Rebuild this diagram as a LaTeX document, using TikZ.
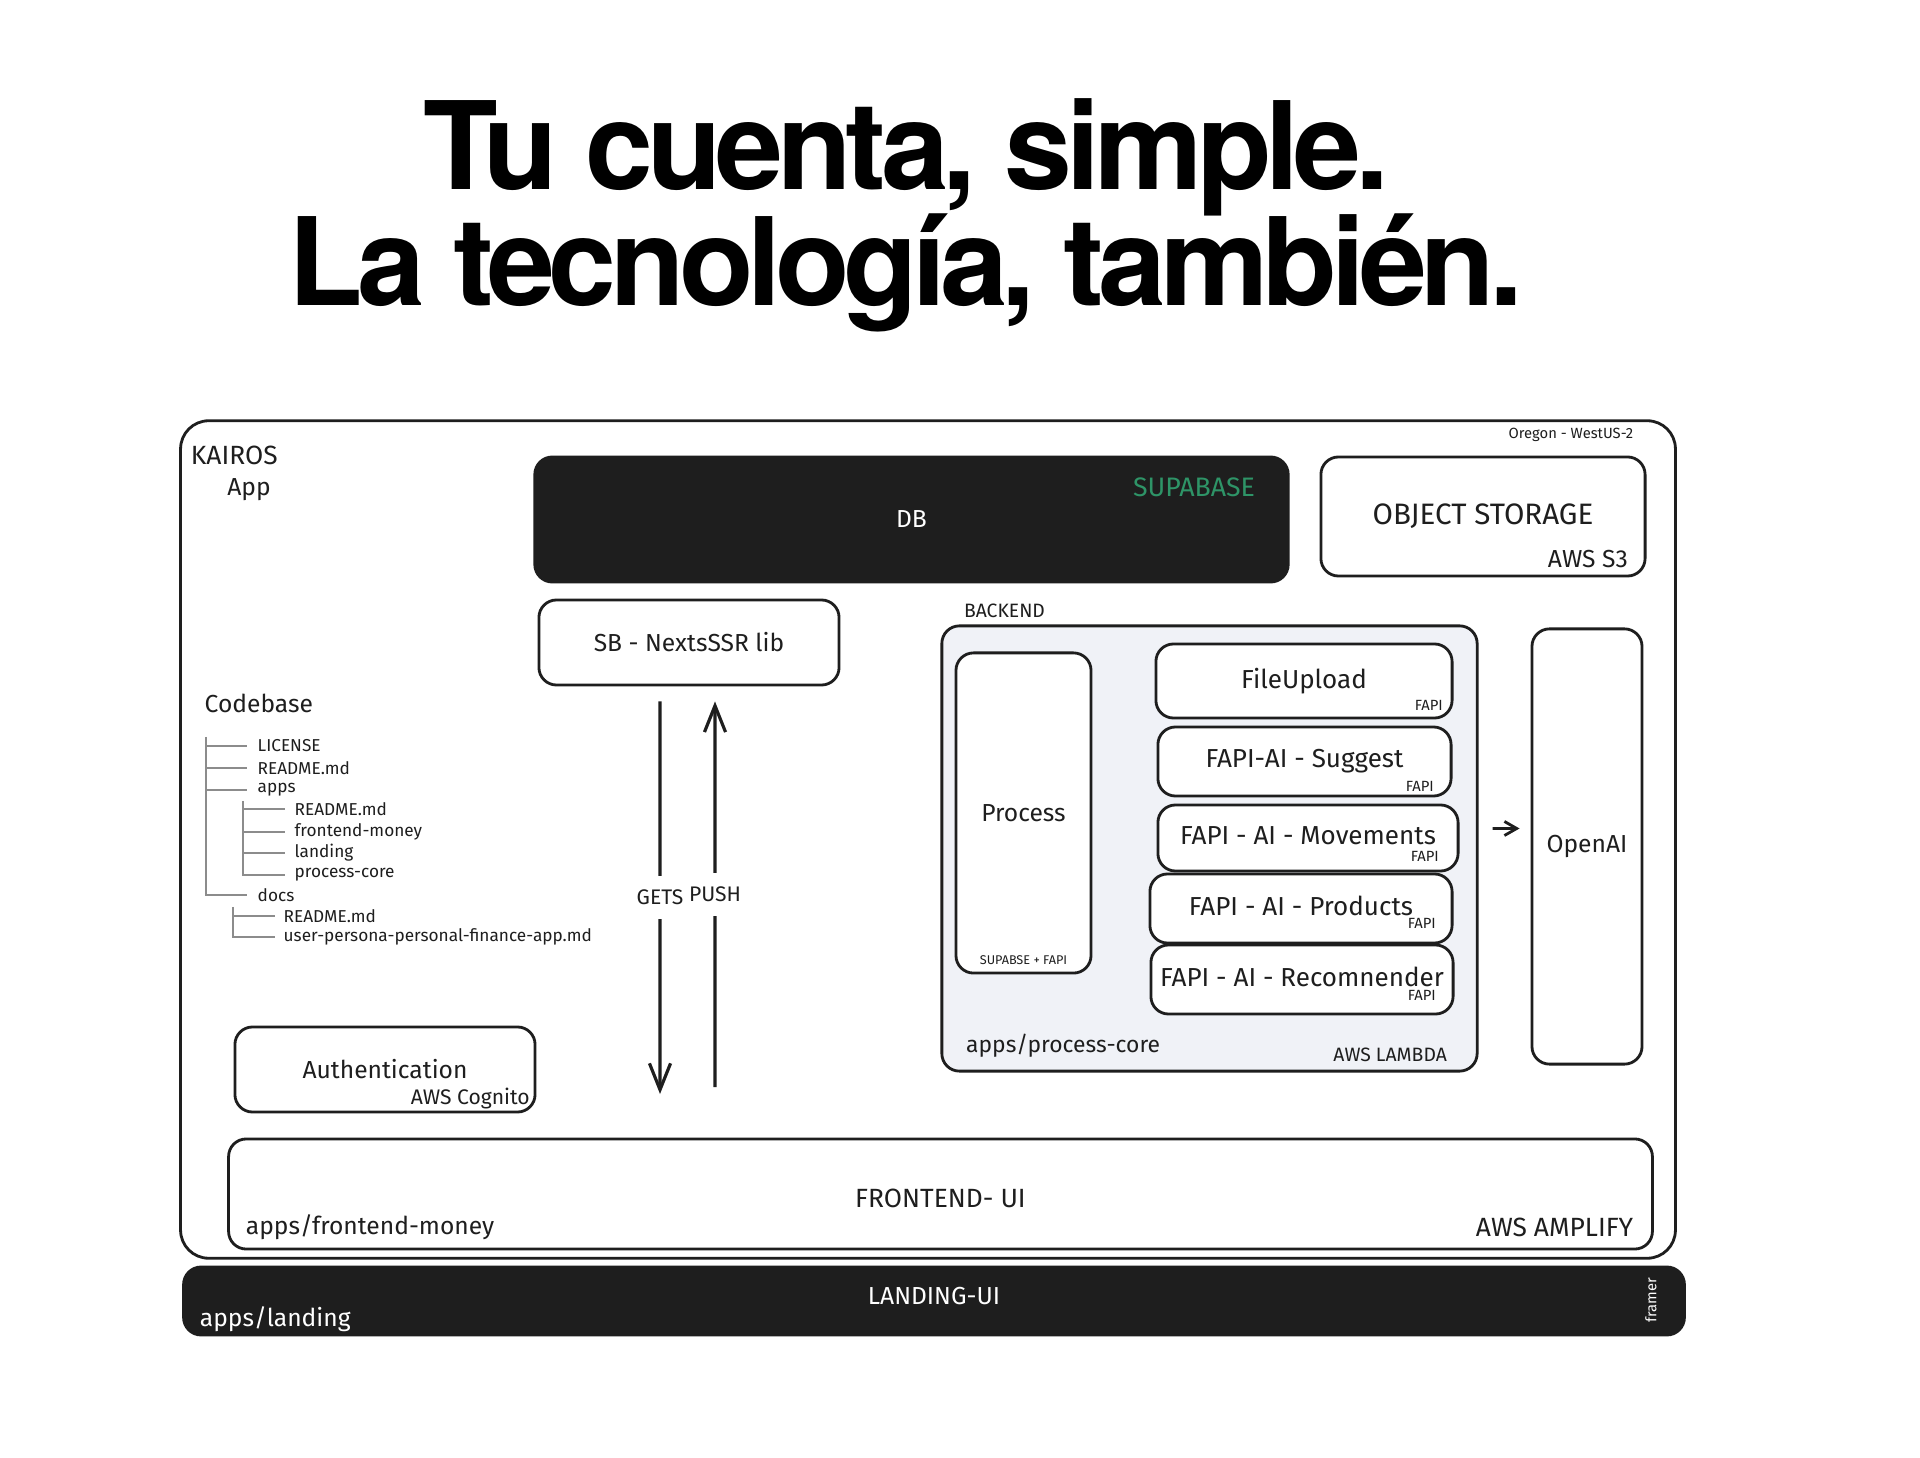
\documentclass[tikz,border=0pt]{standalone}
\usepackage{fontspec}
\setmainfont{Fira Sans}
\newfontfamily\headfont[LetterSpace=-5]{TeX Gyre Heros}
\usetikzlibrary{arrows.meta,positioning}

\definecolor{ink}{HTML}{1E1E1E}
\definecolor{supagreen}{HTML}{2E9467}
\definecolor{backfill}{HTML}{F0F2F7}
\definecolor{treegrey}{HTML}{8C8C8C}

\tikzset{
  box/.style={draw=ink, line width=0.8pt, rounded corners=5pt, fill=white, inner sep=0pt},
  darkbox/.style={box, fill=ink, text=white},
  lbl/.style={font=\fontsize{7}{8}\selectfont, text=ink, inner sep=0pt},
  fapilbl/.style={lbl, font=\fontsize{7.4}{8}\selectfont},
  small/.style={font=\fontsize{5.5}{6}\selectfont, text=ink, inner sep=0pt},
  tiny/.style={font=\fontsize{4.2}{5}\selectfont, text=ink, inner sep=0pt},
  treeline/.style={draw=treegrey, line width=0.5pt},
  treetxt/.style={font=\fontsize{4.9}{5}\selectfont, text=ink, inner sep=0pt, anchor=west},
  arr/.style={draw=ink, line width=0.9pt, -{Straight Barb[length=7.5pt,width=6pt]}},
  shortarr/.style={draw=ink, line width=0.8pt, -{Straight Barb[length=3.5pt,width=4pt]}}
}

\begin{document}
\begin{tikzpicture}[x=0.01cm, y=-0.01cm]
\fill[white] (0,0) rectangle (1920,1458);
\useasboundingbox (0,0) rectangle (1920,1458);

% heading
\node[anchor=base, inner sep=0pt, font=\headfont\bfseries\fontsize{34.7}{36}\selectfont] (title1) at (906,190) {Tu cuenta, simple.};
\node[anchor=base, inner sep=0pt, font=\headfont\bfseries\fontsize{34.7}{36}\selectfont] (title2) at (906,306) {La tecnología, también.};

% app frame
\node[box, rounded corners=8pt, minimum width=14.94cm, minimum height=8.37cm] (kairos) at (928,839.5) {};
\node[lbl, font=\fontsize{7.5}{8}\selectfont, anchor=west] (appname) at ([xshift=0.11cm,yshift=-0.36cm]kairos.north west) {KAIROS};
\node[lbl] (applbl) at (249,490) {App};
\node[tiny, anchor=east] (region) at ([xshift=-0.43cm,yshift=-0.16cm]kairos.north east) {Oregon - WestUS-2};

% storage row
\node[darkbox, minimum width=7.53cm, minimum height=1.25cm, lbl, text=white] (db) at (911.5,519.5) {DB};
\node[lbl, font=\fontsize{7.6}{8}\selectfont, text=supagreen, anchor=east] (supa) at ([xshift=-0.34cm,yshift=-0.32cm]db.north east) {SUPABASE};
\node[box, minimum width=3.24cm, minimum height=1.19cm, lbl, font=\fontsize{8.4}{9}\selectfont] (objstore) at (1483,516.5) {OBJECT STORAGE};
\node[lbl, anchor=east] (s3) at ([xshift=-0.18cm,yshift=0.18cm]objstore.south east) {AWS S3};

\node[box, minimum width=3.0cm, minimum height=0.85cm, lbl] (sb) at (689,642.5) {SB - NextsSSR lib};

% codebase tree
\node[lbl, anchor=west] (codebase) at (204,703) {Codebase};
\draw[treeline] (206,737) -- (206,895) -- (247,895);
\foreach \y/\t in {746/LICENSE, 768/README.md, 790/apps} {
  \draw[treeline] (206,\y) -- (247,\y);
  \node[treetxt] (top\y) at (257,\y) {\t};
}
\node[treetxt] (docs) at (257,895) {docs};
\draw[treeline] (243,801) -- (243,875) -- (285,875);
\foreach \y/\t in {809/README.md, 832/frontend-money, 853/landing, 875/process-core} {
  \draw[treeline] (243,\y) -- (285,\y);
  \node[treetxt] (app\y) at (294,\y) {\t};
}
\draw[treeline] (233,907) -- (233,937) -- (275,937);
\draw[treeline] (233,916) -- (275,916);
\node[treetxt] (doc916) at (283,916) {README.md};
\node[treetxt] (doc937) at (283,937) {user-persona-personal-finance-app.md};

\node[box, minimum width=3.0cm, minimum height=0.85cm, lbl] (auth) at (385,1069.5) {Authentication};
\node[small, font=\fontsize{6}{7}\selectfont, anchor=east] (cognito) at ([xshift=-0.06cm,yshift=0.15cm]auth.south east) {AWS Cognito};

% backend
\node[box, fill=backfill, minimum width=5.35cm, minimum height=4.45cm] (backend) at (1209.5,848.5) {};
\node[small, anchor=south west] (backendlbl) at ([xshift=0.23cm,yshift=0.06cm]backend.north west) {BACKEND};
\node[lbl, font=\fontsize{6.5}{7}\selectfont, anchor=west] (corepath) at ([xshift=0.25cm,yshift=0.27cm]backend.south west) {apps/process-core};
\node[small, anchor=east] (lambda) at ([xshift=-0.31cm,yshift=0.18cm]backend.south east) {AWS LAMBDA};

\node[box, minimum width=1.35cm, minimum height=3.2cm, lbl] (process) at (1023.5,813) {Process};
\node[tiny, font=\fontsize{3.6}{4}\selectfont] (processsub) at ([yshift=0.14cm]process.south) {SUPABSE + FAPI};

\node[box, minimum width=2.96cm, minimum height=0.74cm, fapilbl] (upload) at (1304,681) {FileUpload};
\node[box, minimum width=2.93cm, minimum height=0.69cm, fapilbl] (suggest) at (1304.5,761.5) {FAPI-AI - Suggest};
\node[box, minimum width=3.0cm, minimum height=0.66cm, fapilbl] (movements) at (1308,838) {};
\node[fapilbl] (movtxt) at (1308,836) {FAPI - AI - Movements};
\node[box, minimum width=3.02cm, minimum height=0.69cm, fapilbl] (products) at (1301,908.5) {};
\node[fapilbl] (prodtxt) at (1301,906) {FAPI - AI - Products};
\node[box, minimum width=3.02cm, minimum height=0.69cm, fapilbl] (recom) at (1302,979.5) {};
\node[fapilbl] (recomtxt) at (1302,977) {FAPI - AI - Recomnender};
\foreach \b/\dx/\dy in {upload/0.1/0.08, suggest/0.18/0.05, movements/0.2/0.1, products/0.17/0.15, recom/0.18/0.14} {
  \node[tiny, anchor=south east] (\b fapi) at ([xshift=-\dx cm,yshift=\dy cm]\b.south east) {FAPI};
}

\node[box, minimum width=1.1cm, minimum height=4.35cm, lbl] (openai) at (1587,846.5) {OpenAI};
\draw[shortarr] ([xshift=0.14cm,yshift=0.2cm]backend.east) -- ([xshift=-0.11cm,yshift=0.18cm]openai.west);

% frontend + data flow
\node[box, minimum width=14.23cm, minimum height=1.1cm] (frontend) at (940.5,1194) {};
\node[lbl, font=\fontsize{7.5}{8}\selectfont] (frontlbl) at ([yshift=-0.04cm]frontend.center) {FRONTEND- UI};
\node[lbl, anchor=west] (frontpath) at ([xshift=0.18cm,yshift=0.23cm]frontend.south west) {apps/frontend-money};
\node[lbl, font=\fontsize{7.5}{8}\selectfont, anchor=east] (amplify) at ([xshift=-0.2cm,yshift=0.23cm]frontend.south east) {AWS AMPLIFY};

\coordinate (getsend) at (660,1094);
\coordinate (pushstart) at (715,1087);
\draw[arr] ([xshift=-0.29cm,yshift=-0.15cm]sb.south) -- (getsend)
  node[pos=0.5, small, font=\fontsize{6}{7}\selectfont, fill=white, inner xsep=0.5pt, inner ysep=4pt] (gets) {GETS};
\draw[arr] (pushstart) -- ([xshift=0.26cm,yshift=-0.15cm]sb.south)
  node[pos=0.5, small, font=\fontsize{6}{7}\selectfont, fill=white, inner xsep=0.5pt, inner ysep=4pt] (push) {PUSH};

% landing bar
\node[darkbox, rounded corners=5pt, minimum width=15.0cm, minimum height=0.68cm] (landing) at (934,1301) {};
\node[lbl, text=white] (landlbl) at ([yshift=0.05cm]landing.center) {LANDING-UI};
\node[lbl, text=white, anchor=west] (landpath) at ([xshift=0.17cm,yshift=0.17cm]landing.south west) {apps/landing};
\node[tiny, text=white, rotate=90] (framer) at (1651,1300) {framer};
\end{tikzpicture}
\end{document}
